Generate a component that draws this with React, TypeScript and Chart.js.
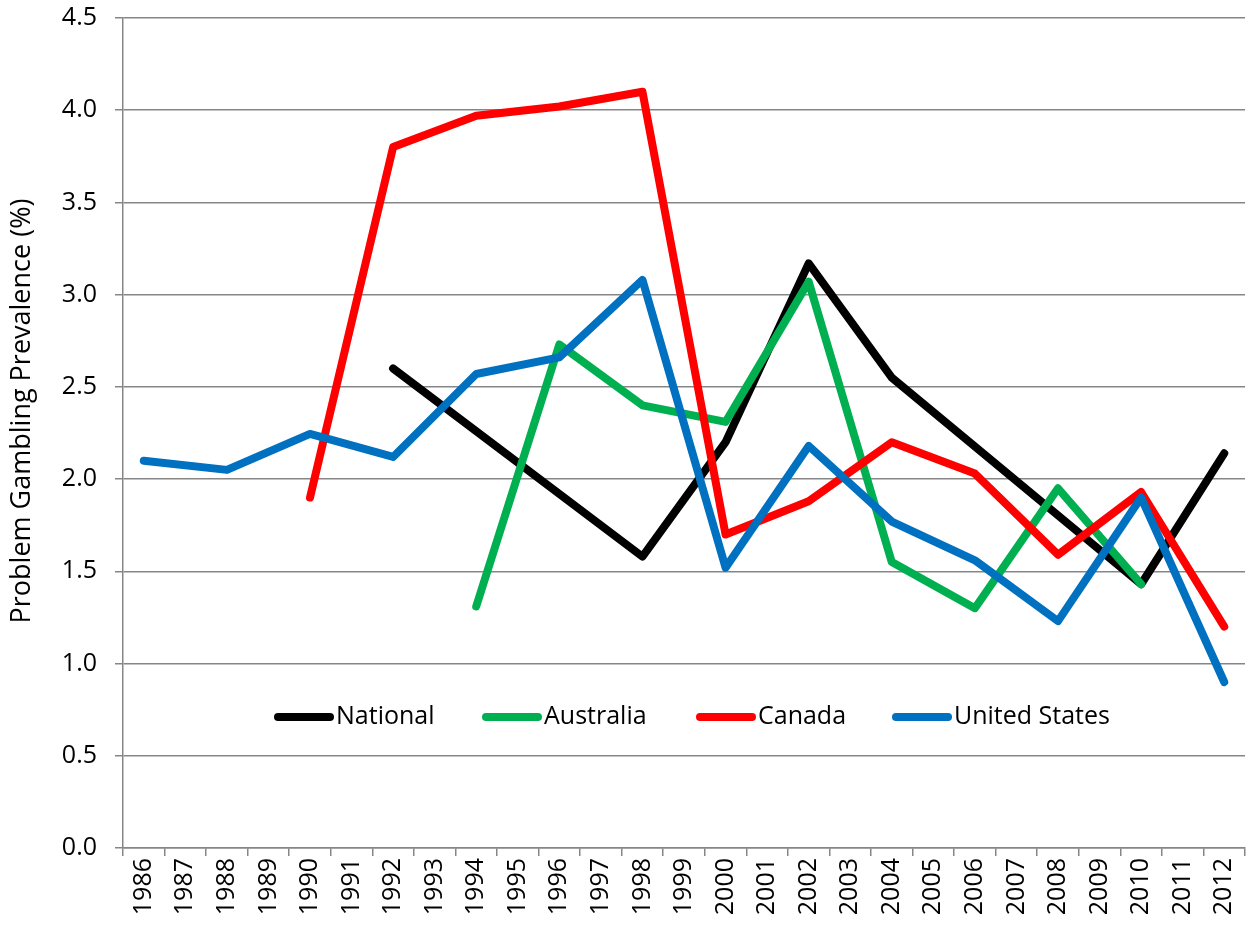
import React, { useEffect, useRef } from "react";
import { Chart, registerables } from "chart.js";

Chart.register(...registerables);

const years = [
  "1986", "1987", "1988", "1989", "1990", "1991", "1992", "1993", "1994", "1995",
  "1996", "1997", "1998", "1999", "2000", "2001", "2002", "2003", "2004", "2005",
  "2006", "2007", "2008", "2009", "2010", "2011", "2012",
];

const national = [
  null, null, null, null, null, null, 2.6, null, null, null,
  null, null, 1.58, null, 2.2, null, 3.17, null, 2.55, null,
  null, null, null, null, 1.43, null, 2.14,
];
const australia = [
  null, null, null, null, null, null, null, null, 1.31, null,
  2.73, null, 2.4, null, 2.31, null, 3.07, null, 1.55, null,
  1.3, null, 1.95, null, 1.43, null, null,
];
const canada = [
  null, null, null, null, 1.9, null, 3.8, null, 3.97, null,
  4.02, null, 4.1, null, 1.7, null, 1.88, null, 2.2, null,
  2.03, null, 1.59, null, 1.93, null, 1.2,
];
const unitedStates = [
  2.1, null, 2.05, null, 2.245, null, 2.12, null, 2.57, null,
  2.66, null, 3.08, null, 1.52, null, 2.18, null, 1.77, null,
  1.56, null, 1.23, null, 1.9, null, 0.9,
];

const seriesNames = ["National", "Australia", "Canada", "United States"];
const seriesColors = ["#000000", "#00B050", "#FF0000", "#0070C0"];
const yTitle = "Problem Gambling Prevalence (%)";

const FONT = "'Open Sans', 'Noto Sans', sans-serif";

const legendPlugin = {
  id: "insideLegend",
  afterDraw(chart: any) {
    const ctx = chart.ctx;
    const area = chart.chartArea;
    const y = chart.scales.y.getPixelForValue(0.71);
    const starts = [274, 482, 696, 892];
    ctx.save();
    ctx.font = `25px ${FONT}`;
    ctx.textBaseline = "middle";
    ctx.textAlign = "left";
    seriesNames.forEach((name, i) => {
      const x0 = starts[i];
      ctx.strokeStyle = seriesColors[i];
      ctx.lineWidth = 8;
      ctx.lineCap = "round";
      ctx.beginPath();
      ctx.moveTo(x0 + 4, y);
      ctx.lineTo(x0 + 56, y);
      ctx.stroke();
      ctx.fillStyle = "#000000";
      ctx.fillText(name, x0 + 62, y);
    });
    // y-axis title
    ctx.translate(22, (area.top + area.bottom) / 2 - 22);
    ctx.rotate(-Math.PI / 2);
    ctx.textAlign = "center";
    ctx.font = `27px ${FONT}`;
    ctx.fillText(yTitle, 0, 0);
    ctx.restore();
  },
};

export default function App() {
  const canvasRef = useRef<HTMLCanvasElement | null>(null);

  useEffect(() => {
    if (!canvasRef.current) return;
    const dataArrays = [national, australia, canada, unitedStates];
    const chart = new Chart(canvasRef.current, {
      type: "line",
      data: {
        labels: years,
        datasets: dataArrays.map((d, i) => ({
          label: seriesNames[i],
          data: d,
          borderColor: seriesColors[i],
          backgroundColor: seriesColors[i],
          borderWidth: 8,
          borderCapStyle: "round",
          borderJoinStyle: "round",
          pointRadius: 0,
          pointHoverRadius: 0,
          spanGaps: true,
          tension: 0,
          order: 3 - i,
        })),
      },
      options: {
        responsive: false,
        animation: false,
        maintainAspectRatio: false,
        layout: { padding: { top: 18, right: 1, left: 0, bottom: 0 } },
        plugins: {
          legend: { display: false },
          tooltip: { enabled: false },
        },
        scales: {
          x: {
            type: "category",
            offset: true,
            grid: {
              offset: true,
              drawOnChartArea: false,
              drawTicks: true,
              tickLength: 8,
              color: "#868686",
              lineWidth: 1.5,
            },
            border: { color: "#868686", width: 1.5 },
            ticks: {
              autoSkip: false,
              maxRotation: 90,
              minRotation: 90,
              color: "#000000",
              padding: 2,
              font: { family: FONT, size: 25 },
            },
            afterFit(scale: any) {
              scale.height = 78;
              scale.paddingLeft = 0;
              scale.paddingRight = 0;
            },
          },
          y: {
            min: 0,
            max: 4.5,
            ticks: {
              stepSize: 0.5,
              color: "#000000",
              padding: 18,
              font: { family: FONT, size: 25 },
              callback: (v: any) => Number(v).toFixed(1),
            },
            grid: {
              color: "#868686",
              lineWidth: 1.5,
              drawTicks: true,
              tickLength: 8,
            },
            border: { color: "#868686", width: 1.5 },
            title: { display: false },
            afterFit(scale: any) {
              scale.width = 123;
              scale.paddingTop = 0;
              scale.paddingBottom = 0;
            },
          },
        },
      },
      plugins: [legendPlugin],
    } as any);
    return () => chart.destroy();
  }, []);

  return (
    <div style={{ position: "fixed", left: 0, top: 0, width: 1246, height: 926, background: "#ffffff" }}>
      <canvas ref={canvasRef} width={1246} height={926} style={{ width: 1246, height: 926, display: "block" }} />
    </div>
  );
}
